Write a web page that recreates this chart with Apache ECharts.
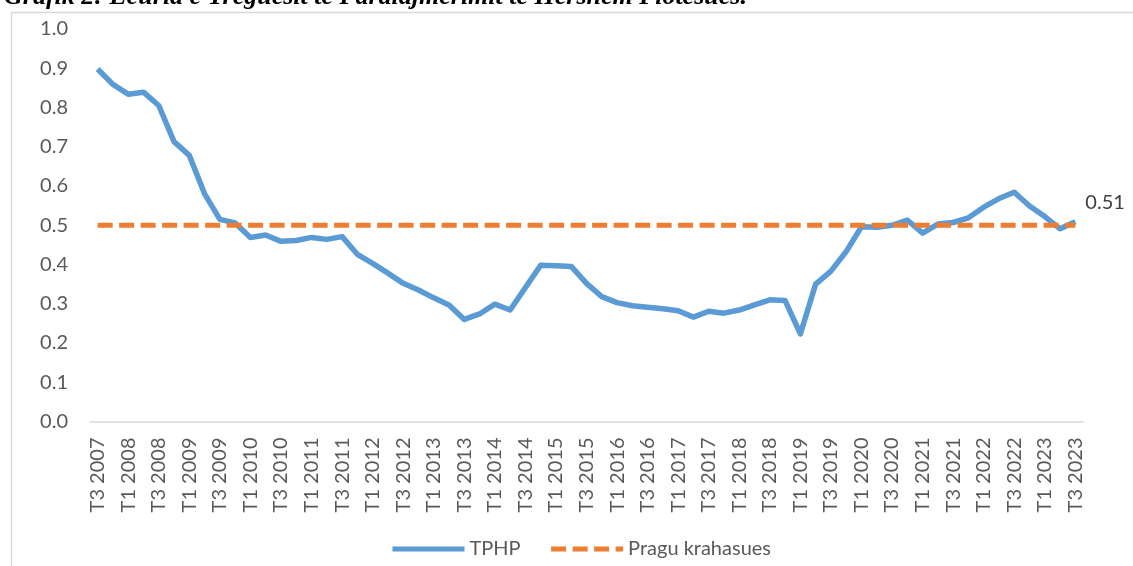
<!DOCTYPE html>
<html>
<head>
<meta charset="utf-8">
<script src="https://cdn.jsdelivr.net/npm/echarts@6/dist/echarts.min.js"></script>
<style>
html,body{margin:0;padding:0;background:#fff;}
#chart{width:1133px;height:566px;}
</style>
</head>
<body>
<div id="chart"></div>
<script>
const titleText = 'Grafik 2: Ecuria e Treguesit të Paralajmërimit të Hershëm Plotësues.';
const categories = [
  'T3 2007','T4 2007',
  'T1 2008','T2 2008','T3 2008','T4 2008',
  'T1 2009','T2 2009','T3 2009','T4 2009',
  'T1 2010','T2 2010','T3 2010','T4 2010',
  'T1 2011','T2 2011','T3 2011','T4 2011',
  'T1 2012','T2 2012','T3 2012','T4 2012',
  'T1 2013','T2 2013','T3 2013','T4 2013',
  'T1 2014','T2 2014','T3 2014','T4 2014',
  'T1 2015','T2 2015','T3 2015','T4 2015',
  'T1 2016','T2 2016','T3 2016','T4 2016',
  'T1 2017','T2 2017','T3 2017','T4 2017',
  'T1 2018','T2 2018','T3 2018','T4 2018',
  'T1 2019','T2 2019','T3 2019','T4 2019',
  'T1 2020','T2 2020','T3 2020','T4 2020',
  'T1 2021','T2 2021','T3 2021','T4 2021',
  'T1 2022','T2 2022','T3 2022','T4 2022',
  'T1 2023','T2 2023','T3 2023'
];
const tphp = [
  0.898, 0.859, 0.834, 0.839, 0.805, 0.713, 0.678, 0.580, 0.515, 0.506,
  0.469, 0.475, 0.459, 0.461, 0.469, 0.464, 0.471, 0.426, 0.403, 0.378,
  0.352, 0.335, 0.315, 0.297, 0.260, 0.274, 0.299, 0.284, 0.341, 0.398,
  0.397, 0.395, 0.352, 0.318, 0.303, 0.295, 0.291, 0.287, 0.282, 0.266,
  0.281, 0.276, 0.284, 0.297, 0.310, 0.308, 0.223, 0.350, 0.383, 0.433,
  0.496, 0.495, 0.500, 0.513, 0.480, 0.503, 0.507, 0.519, 0.546, 0.568,
  0.584, 0.549, 0.522, 0.491, 0.509
];
const pragu = [
  0.5, 0.5, 0.5, 0.5, 0.5, 0.5, 0.5, 0.5, 0.5, 0.5,
  0.5, 0.5, 0.5, 0.5, 0.5, 0.5, 0.5, 0.5, 0.5, 0.5,
  0.5, 0.5, 0.5, 0.5, 0.5, 0.5, 0.5, 0.5, 0.5, 0.5,
  0.5, 0.5, 0.5, 0.5, 0.5, 0.5, 0.5, 0.5, 0.5, 0.5,
  0.5, 0.5, 0.5, 0.5, 0.5, 0.5, 0.5, 0.5, 0.5, 0.5,
  0.5, 0.5, 0.5, 0.5, 0.5, 0.5, 0.5, 0.5, 0.5, 0.5,
  0.5, 0.5, 0.5, 0.5, 0.5
];
const seriesNames = ['TPHP', 'Pragu krahasues'];

const FONT = 'Lato';
const chart = echarts.init(document.getElementById('chart'), null, {renderer: 'canvas'});
chart.setOption({
  backgroundColor: '#ffffff',
  animation: false,
  graphic: [
    {type: 'rect', shape: {x: 11.5, y: 12.5, width: 1300, height: 700},
     style: {fill: 'none', stroke: '#D9D9D9', lineWidth: 1.5}, silent: true, z: -1},
    {type: 'text', left: 4, top: -16,
     style: {text: titleText, font: 'italic bold 26px "Liberation Serif"', fill: '#000000'}}
  ],
  grid: {left: 90, right: 50, top: 29, bottom: 144.5, containLabel: false},
  legend: {
    data: seriesNames,
    bottom: 2,
    left: 385,
    itemWidth: 72,
    itemHeight: 14,
    itemGap: 28,
    itemStyle: {opacity: 0},
    lineStyle: {width: 5},
    textStyle: {fontFamily: FONT, fontSize: 20, color: '#595959'}
  },
  xAxis: {
    type: 'category',
    data: categories,
    boundaryGap: true,
    axisLine: {show: true, lineStyle: {color: '#D9D9D9', width: 1.5}},
    axisTick: {show: false},
    axisLabel: {interval: 1, rotate: 90, margin: 16, fontFamily: FONT, fontSize: 20, color: '#595959'},
    splitLine: {show: false}
  },
  yAxis: {
    type: 'value',
    min: 0, max: 1, interval: 0.1,
    axisLine: {show: false},
    axisTick: {show: false},
    splitLine: {show: false},
    axisLabel: {margin: 22, fontFamily: FONT, fontSize: 20, color: '#595959',
      formatter: v => v.toFixed(1)}
  },
  series: [
    {
      name: seriesNames[0], type: 'line', data: tphp, symbol: 'none',
      color: '#5B9BD5',
      lineStyle: {color: '#5B9BD5', width: 5.5, join: 'round'},
      endLabel: {show: true, formatter: p => p.value.toFixed(2), distance: 10, offset: [0, -19],
        fontFamily: FONT, fontSize: 20, color: '#404040'},
      z: 3
    },
    {
      name: seriesNames[1], type: 'line', data: pragu, symbol: 'none',
      color: '#ED7D31',
      lineStyle: {color: '#ED7D31', width: 5, type: [15, 6.5]},
      z: 4
    }
  ]
});
</script>
</body>
</html>
